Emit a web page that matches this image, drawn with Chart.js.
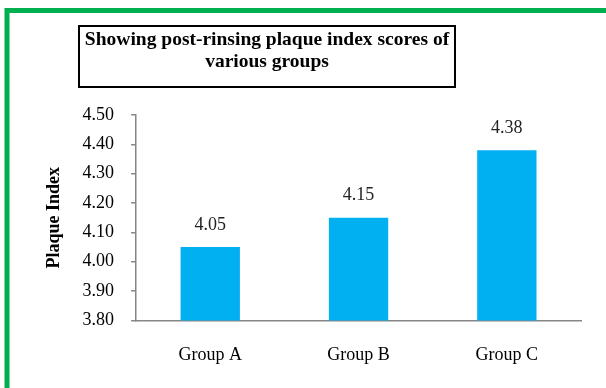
<!DOCTYPE html>
<html>
<head>
<meta charset="utf-8">
<script src="https://cdn.jsdelivr.net/npm/chart.js@4/dist/chart.umd.min.js"></script>
<style>
  html, body { margin: 0; padding: 0; background: #fff; }
  #wrap { width: 606px; height: 388px; position: relative; }
</style>
</head>
<body>
<div id="wrap"><canvas id="myChart" width="606" height="388"></canvas></div>
<script>
var groups = ['Group A', 'Group B', 'Group C'];
var plaqueScores = [4.05, 4.15, 4.38];
var titleLines = ['Showing post-rinsing plaque index scores of', 'various groups'];
var yTitle = 'Plaque Index';

var serif = "'Liberation Serif', 'Times New Roman', serif";
var axisGray = '#868686';

// green frame + boxed title
var framePlugin = {
  id: 'frame',
  beforeDraw: function(chart) {
    var ctx = chart.ctx;
    ctx.save();
    ctx.fillStyle = '#fff';
    ctx.fillRect(0, 0, chart.width, chart.height);
    ctx.strokeStyle = '#00B050';
    ctx.lineWidth = 5;
    ctx.strokeRect(7, 10.5, chart.width + 20, chart.height + 20);
    ctx.restore();
  },
  afterDraw: function(chart) {
    var ctx = chart.ctx;
    ctx.save();
    ctx.strokeStyle = '#000';
    ctx.lineWidth = 2;
    ctx.strokeRect(79, 26, 376, 61);
    ctx.fillStyle = '#000';
    ctx.font = 'bold 19.5px ' + serif;
    ctx.textAlign = 'center';
    ctx.textBaseline = 'middle';
    ctx.fillText(titleLines[0], 267, 40);
    ctx.fillText(titleLines[1], 267, 62);
    ctx.restore();
  }
};

// value labels above bars
var valuePlugin = {
  id: 'values',
  afterDatasetsDraw: function(chart) {
    var ctx = chart.ctx;
    var meta = chart.getDatasetMeta(0);
    ctx.save();
    ctx.fillStyle = '#222';
    ctx.font = '18px ' + serif;
    ctx.textAlign = 'center';
    ctx.textBaseline = 'middle';
    meta.data.forEach(function(bar, i) {
      ctx.fillText(plaqueScores[i].toFixed(2), bar.x, bar.y - 22);
    });
    ctx.restore();
  }
};

var ctx = document.getElementById('myChart').getContext('2d');
var chart = new Chart(ctx, {
  type: 'bar',
  data: {
    labels: groups,
    datasets: [{
      data: plaqueScores,
      backgroundColor: '#00B0F0',
      borderWidth: 0,
      barPercentage: 0.4,
      categoryPercentage: 1.0
    }]
  },
  options: {
    responsive: false,
    animation: false,
    layout: { padding: { top: 115, left: 10, right: 25, bottom: 6 } },
    plugins: {
      legend: { display: false },
      title: { display: false },
      tooltip: { enabled: false }
    },
    scales: {
      x: {
        grid: { display: false },
        border: { display: true, color: axisGray, width: 1.5 },
        ticks: { color: '#000', font: { family: serif, size: 18 }, padding: 16 }
      },
      y: {
        min: 3.8,
        max: 4.5,
        ticks: {
          stepSize: 0.1,
          color: '#000',
          font: { family: serif, size: 18 },
          padding: 17,
          callback: function(v) { return Number(v).toFixed(2); }
        },
        grid: { drawOnChartArea: false, drawTicks: true, tickLength: 5, color: axisGray, lineWidth: 1.5 },
        border: { display: true, color: axisGray, width: 1.5 },
        title: {
          display: true,
          text: yTitle,
          color: '#000',
          font: { family: serif, size: 18, weight: 'bold' },
          padding: { top: 34, bottom: 0 }
        }
      }
    }
  },
  plugins: [framePlugin, valuePlugin]
});
</script>
</body>
</html>
